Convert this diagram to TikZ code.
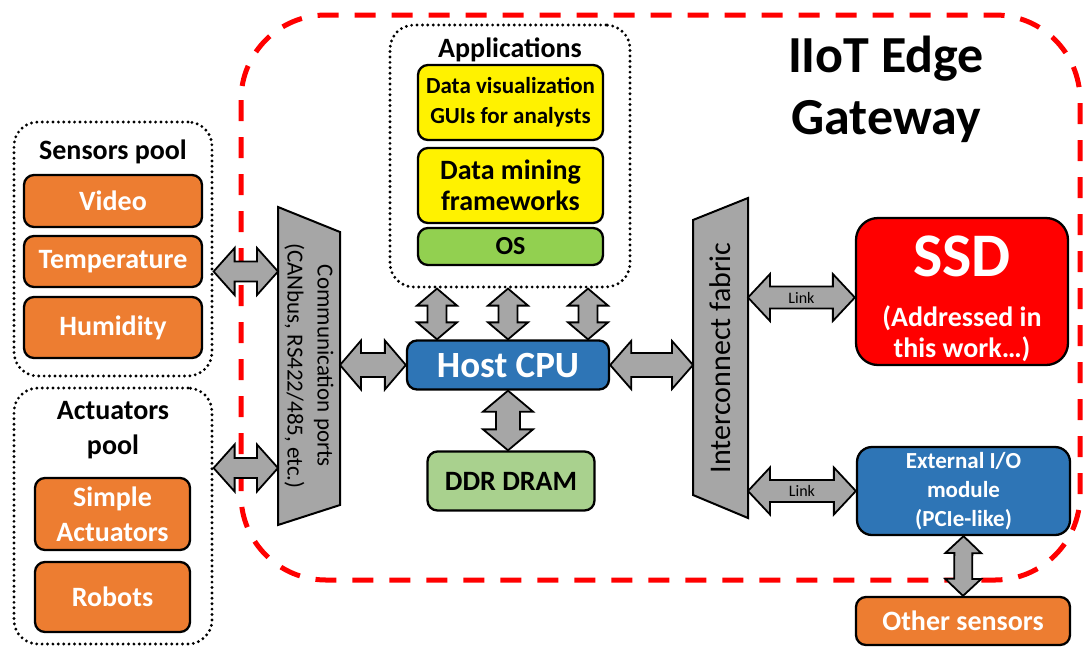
\documentclass[tikz,border=0pt]{standalone}
\usepackage{fontspec}
\setmainfont{Carlito}
\usepackage{xcolor}
\usepackage{tikz}
\usetikzlibrary{calc, positioning}

\definecolor{boxorange}{HTML}{ED7D31}
\definecolor{boxblue}{HTML}{2E75B6}
\definecolor{osgreen}{HTML}{92D050}
\definecolor{ramgreen}{HTML}{A9D18E}
\definecolor{linkgray}{HTML}{A6A6A6}

\newcommand{\fsz}[2]{\fontsize{#1}{#2}\selectfont}
% fat double arrow: from, to, shaft half width, head half width, head length
\newcommand{\fatlink}[5]{%
  \coordinate (fa) at ($(#1)!#5!(#2)$);
  \coordinate (fb) at ($(#2)!#5!(#1)$);
  \draw[fatarrow] (#1) -- ($(fa)!#4!90:(#2)$) -- ($(fa)!#3!90:(#2)$)
    -- ($(fb)!#3!-90:(#1)$) -- ($(fb)!#4!-90:(#1)$) -- (#2)
    -- ($(fb)!#4!90:(#1)$) -- ($(fb)!#3!90:(#1)$)
    -- ($(fa)!#3!-90:(#2)$) -- ($(fa)!#4!-90:(#2)$) -- cycle;
}

\tikzset{
  gateway/.style={draw=red, line width=5pt, dash pattern=on 21pt off 16pt, rounded corners=85pt},
  pool/.style={draw, line width=3.2pt, dash pattern=on 0pt off 5.4pt, line cap=round, rounded corners=24pt},
  dev/.style={draw, fill=#1, line width=2.3pt, rounded corners=10pt, inner sep=0pt, align=center},
  sensbox/.style={dev=boxorange, text=white, font=\fsz{28}{35}\bfseries},
  port/.style={draw, fill=linkgray, line width=2pt},
  fatarrow/.style={draw, fill=linkgray, line width=1.8pt},
  lbl/.style={font=\fsz{28}{35}\bfseries, align=center}
}

\begin{document}
\begin{tikzpicture}[x=1pt, y=-1pt]
\useasboundingbox (0,0) rectangle (1083,646);

% gateway border
\draw[gateway] (241,15) rectangle (1080,580);
\node[font=\fsz{52}{62}\bfseries, align=center] (title) at (886,89) {IIoT Edge\\Gateway};

% sensors pool
\node[pool, minimum width=198pt, minimum height=254pt] (sensors) at (113,249) {};
\node[lbl] (senslab) at (113,152) {Sensors pool};
\node[sensbox, minimum width=178pt, minimum height=52pt] (video) at (113,201) {Video};
\node[sensbox, minimum width=178pt, minimum height=51pt] (temp) at (113,261.5) {Temperature};
\node[sensbox, minimum width=178pt, minimum height=61pt] (humid) at (113,327.5) {Humidity};

% actuators pool
\node[pool, minimum width=198pt, minimum height=256pt] (actpool) at (113,516) {};
\node[lbl] (actlab) at (113,430) {Actuators\\pool};
\node[sensbox, minimum width=155pt, minimum height=72pt] (simple) at (112.5,514) {Simple\\Actuators};
\node[sensbox, minimum width=155pt, minimum height=70pt] (robots) at (112.5,597) {Robots};

% applications
\node[pool, minimum width=240pt, minimum height=262pt] (apps) at (510,156) {};
\node[lbl] (applab) at (510,50) {Applications};
\node[dev=yellow, minimum width=185pt, minimum height=75pt, font=\fsz{23}{30}\bfseries] (gui) at (510.5,102.5) {Data visualization\\GUIs for analysts};
\node[dev=yellow, minimum width=185pt, minimum height=75pt, font=\fsz{28}{31}\bfseries] (mining) at (510.5,185.5) {Data mining\\frameworks};
\node[dev=osgreen, minimum width=185pt, minimum height=37pt, font=\fsz{26}{30}\bfseries] (os) at (510.5,246.5) {OS};

% host side
\node[dev=boxblue, text=white, minimum width=202pt, minimum height=49pt, font=\fsz{37}{40}\bfseries] (cpu) at (508,365) {Host CPU};
\node[dev=ramgreen, minimum width=167pt, minimum height=59pt, font=\fsz{28}{32}\bfseries] (ram) at (511,481) {DDR DRAM};

% ports and fabric
\draw[port] (278,207) -- (340,232) -- (340,505) -- (278,525) -- cycle;
\coordinate (commW) at (278,366);
\coordinate (commE) at (340,366);
\node[rotate=-90, align=center, font=\fsz{23}{30}] (comm) at (309,366) {Communication ports\\(CANbus, RS422/485, etc.)};
\draw[port] (693,220) -- (748,198) -- (748,518) -- (693,495) -- cycle;
\coordinate (fabW) at (693,358);
\coordinate (fabE) at (748,358);
\node[rotate=90, font=\fsz{30}{32}] (fabric) at (720.5,358) {Interconnect fabric};

% devices
\node[dev=red, minimum width=212pt, minimum height=147pt, rounded corners=22pt] (ssd) at (962,291.5) {};
\node[text=white, align=center, font=\fsz{28}{31}\bfseries] (ssdtext) at (962,299) {{\fsz{62}{62}\bfseries SSD}\\[19pt](Addressed in\\this work…)};
\node[dev=boxblue, text=white, minimum width=213pt, minimum height=88pt, rounded corners=15pt, font=\fsz{23}{29}\bfseries] (ext) at (963.5,491) {External I/O\\module\\(PCIe-like)};
\node[dev=boxorange, text=white, minimum width=214pt, minimum height=48pt, font=\fsz{28}{32}\bfseries] (other) at (963,621) {Other sensors};

% connectors
\coordinate (s1) at ($(sensors.east |- temp)+(0,10)$);
\coordinate (s2) at (commW |- s1);
\coordinate (a1) at ($(actpool.east)+(0,-48)$);
\coordinate (a2) at (commW |- a1);
\coordinate (c1) at (commE |- cpu.west);
\coordinate (f1) at (fabW |- cpu.east);
\coordinate (l1) at ($(ssd.west)+(0,6)$);
\coordinate (l2) at (fabE |- l1);
\coordinate (e1) at (fabE |- ext.west);
\coordinate (r1) at (cpu.south |- ram.north);

\fatlink{s1}{s2}{10pt}{23.5pt}{21pt}
\fatlink{a1}{a2}{10pt}{23.5pt}{21pt}
\fatlink{c1}{cpu.west}{12pt}{24.5pt}{21pt}
\fatlink{cpu.east}{f1}{12pt}{24pt}{21pt}
\foreach \dx [count=\i] in {-71,0,80} {
  \coordinate (b\i) at ($(cpu.north)+(\dx,0)$);
  \coordinate (t\i) at (apps.south -| b\i);
  \fatlink{t\i}{b\i}{9.5pt}{20pt}{17pt}
}
\fatlink{cpu.south}{r1}{12pt}{25pt}{21pt}
\fatlink{l2}{l1}{11pt}{23.5pt}{22pt}
\fatlink{e1}{ext.west}{11pt}{23.5pt}{22pt}
\fatlink{ext.south}{other.north}{9pt}{18pt}{17pt}
\node[font=\fsz{16}{16}] (linkssd) at ($(l1)!0.5!(l2)$) {Link};
\node[font=\fsz{16}{16}] (linkext) at ($(e1)!0.5!(ext.west)$) {Link};
\end{tikzpicture}
\end{document}
